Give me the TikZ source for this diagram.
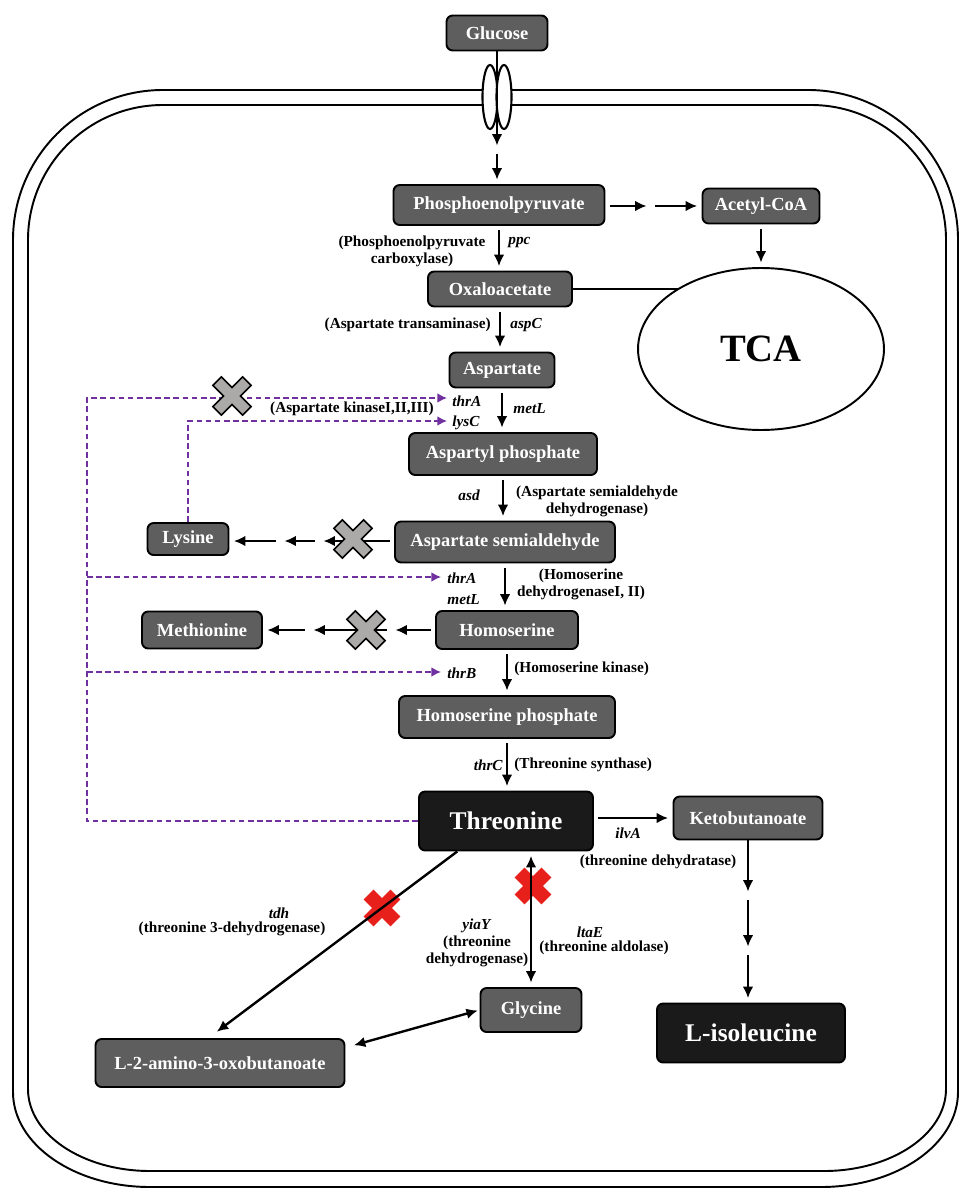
\documentclass[tikz,border=0pt]{standalone}
\usepackage{fontspec}
\setmainfont{Liberation Serif}
\usepackage{tikz}
\usetikzlibrary{shapes.geometric,arrows.meta,positioning}
\definecolor{boxgray}{RGB}{94,94,94}
\definecolor{boxblack}{RGB}{26,26,26}
\definecolor{fbpurple}{RGB}{112,48,160}
\definecolor{markgray}{RGB}{172,170,168}
\definecolor{markred}{RGB}{232,32,28}

\begin{document}
\begin{tikzpicture} [
      x = 0.02cm, y = -0.02cm,
      metab/.style = { draw, line width = 1.1pt, rounded corners = 3.5pt, fill = boxgray, text = white,
                       inner sep = 0pt, font = \fontsize{10.5}{12}\selectfont\bfseries },
      final/.style = { metab, fill = boxblack, font = \fontsize{14.5}{16}\selectfont\bfseries },
      enz/.style = { inner sep = 0pt, align = center, font = \fontsize{8.7}{9.6}\selectfont\bfseries },
      gene/.style = { inner sep = 0pt, font = \fontsize{8.7}{9.6}\selectfont\bfseries\itshape },
      flow/.style = { line width = 1.35pt, -{Latex[length = 6.5pt, width = 6pt]},
                      shorten < = 2.5pt, shorten > = 2.5pt },
      twoway/.style = { flow, {Latex[length = 6.5pt, width = 6pt]}-{Latex[length = 6.5pt, width = 6pt]} },
      fb/.style = { draw = fbpurple, line width = 0.85pt, dash pattern = on 3.2pt off 2pt },
      fbarrow/.style = { fb, -{Latex[length = 5.5pt, width = 5.5pt]} },
      membrane/.style = { line width = 1.1pt },
      graymark/.pic = {
        \draw[fill = markgray, line width = 0.9pt, rotate = 45]
          (6,6) -- (21,6) -- (21,-6) -- (6,-6) -- (6,-21) -- (-6,-21) -- (-6,-6)
          -- (-21,-6) -- (-21,6) -- (-6,6) -- (-6,21) -- (6,21) -- cycle;
      },
      redmark/.pic = {
        \fill[markred, rotate = 45]
          (7,7) -- (19,7) -- (19,-7) -- (7,-7) -- (7,-19) -- (-7,-19) -- (-7,-7)
          -- (-19,-7) -- (-19,7) -- (-7,7) -- (-7,19) -- (7,19) -- cycle;
      }
      ]
    \useasboundingbox (0,0) rectangle (959,1189);

    % cell envelope
    \draw[membrane] (13,240) -- (13,1092) arc[start angle = 180, end angle = 90, x radius = 137, y radius = 95]
      -- (821,1187) arc[start angle = 90, end angle = 0, x radius = 137, y radius = 95]
      -- (958,240) arc[start angle = 0, end angle = -90, radius = 150]
      -- (163,90) arc[start angle = -90, end angle = -180, radius = 150] -- cycle;
    \draw[membrane] (28,240) -- (28,1089) arc[start angle = 180, end angle = 90, x radius = 122, y radius = 82]
      -- (824,1171) arc[start angle = 90, end angle = 0, x radius = 122, y radius = 82]
      -- (946,240) arc[start angle = 0, end angle = -90, radius = 135]
      -- (163,105) arc[start angle = -90, end angle = -180, radius = 135] -- cycle;
    \draw[line width = 1.2pt, fill = white] (490,97) ellipse [x radius = 7.5, y radius = 32];
    \draw[line width = 1.2pt, fill = white] (504,97) ellipse [x radius = 7.5, y radius = 32];

    \node[metab, minimum width = 2.02cm, minimum height = 0.70cm] (glc) at (497,33) {Glucose};
    \node[metab, minimum width = 4.22cm, minimum height = 0.80cm] (pep) at (499,205) {Phosphoenolpyruvate};
    \node[metab, minimum width = 2.34cm, minimum height = 0.70cm] (acoa) at (761,206) {Acetyl-CoA};
    \node[draw, ellipse, line width = 1.1pt, minimum width = 4.92cm, minimum height = 3.24cm,
          font = \fontsize{22}{24}\selectfont\bfseries] (tca) at (761,349) {TCA};
    \node[metab, minimum width = 2.88cm, minimum height = 0.70cm] (oaa) at (500,289) {Oxaloacetate};
    \node[metab, minimum width = 2.10cm, minimum height = 0.70cm] (asp) at (502,370) {Aspartate};
    \node[metab, minimum width = 3.76cm, minimum height = 0.84cm] (aspp) at (503,454) {Aspartyl phosphate};
    \node[metab, minimum width = 4.40cm, minimum height = 0.82cm] (asa) at (505,542) {Aspartate semialdehyde};
    \node[metab, minimum width = 1.62cm, minimum height = 0.64cm] (lys) at (188,539) {Lysine};
    \node[metab, minimum width = 2.84cm, minimum height = 0.76cm] (hser) at (507,630) {Homoserine};
    \node[metab, minimum width = 2.40cm, minimum height = 0.74cm] (met) at (202,630) {Methionine};
    \node[metab, minimum width = 4.32cm, minimum height = 0.84cm] (hserp) at (507,717) {Homoserine phosphate};
    \node[final, minimum width = 3.48cm, minimum height = 1.18cm] (thr) at (506,821) {Threonine};
    \node[metab, minimum width = 2.98cm, minimum height = 0.86cm] (kb) at (748,818) {Ketobutanoate};
    \node[final, minimum width = 3.76cm, minimum height = 1.18cm] (ile) at (751,1033) {L-isoleucine};
    \node[metab, minimum width = 2.02cm, minimum height = 0.88cm] (gly) at (531,1010) {Glycine};
    \node[metab, minimum width = 4.98cm, minimum height = 0.96cm] (aob) at (220,1063) {L-2-amino-3-oxobutanoate};

    \node[enz] (ppcE) at (412,251) {(Phosphoenolpyruvate\\carboxylase)};
    \node[gene, anchor = west] (ppcG) at (508,243) {ppc};
    \node[enz, anchor = east] (aspCE) at (491,325) {(Aspartate transaminase)};
    \node[gene, anchor = west] (aspCG) at (510,325) {aspC};
    \node[enz, anchor = east] (askE) at (434,409) {(Aspartate kinaseI,II,III)};
    \node[gene, anchor = west] (thrA1) at (452,401) {thrA};
    \node[gene, anchor = west] (lysCG) at (452,423) {lysC};
    \node[gene, anchor = west] (metL1) at (513,409) {metL};
    \node[gene, anchor = east] (asdG) at (480,495) {asd};
    \node[enz] (asdE) at (597,501) {(Aspartate semialdehyde\\dehydrogenase)};
    \node[gene, anchor = west] (thrA2) at (447,578) {thrA};
    \node[gene, anchor = west] (metL2) at (447,600) {metL};
    \node[enz] (hdhE) at (581,584) {(Homoserine\\dehydrogenaseI, II)};
    \node[gene, anchor = west] (thrBG) at (447,673) {thrB};
    \node[enz, anchor = west] (hskE) at (514,669) {(Homoserine kinase)};
    \node[gene, anchor = east] (thrCG) at (503,765) {thrC};
    \node[enz, anchor = west] (tsE) at (514,765) {(Threonine synthase)};
    \node[gene] (ilvAG) at (628,833) {ilvA};
    \node[enz] (ilvAE) at (658,862) {(threonine dehydratase)};
    \node[gene] (tdhG) at (279,913) {tdh};
    \node[enz] (tdhE) at (232,929) {(threonine 3-dehydrogenase)};
    \node[enz] (yiaYE) at (477,943) {\textit{yiaY}\\(threonine\\dehydrogenase)};
    \node[gene] (ltaEG) at (590,932) {ltaE};
    \node[enz] (ltaEE) at (604,948) {(threonine aldolase)};

    \coordinate (gmid) at (497,150);
    \coordinate (pmid) at (651,206);
    \coordinate (lk1) at (319,541);
    \coordinate (lk2) at (280,541);
    \coordinate (mm1) at (391,630);
    \coordinate (mm2) at (309,630);
    \coordinate (kb1) at (748,896);
    \coordinate (kb2) at (748,951);
    \coordinate (fbk) at (87,398);
    \coordinate (tipA) at (447,398);
    \coordinate (tipL) at (447,421);
    \coordinate (tipH) at (441,577);
    \coordinate (tipB) at (441,672);

    \pic at (382,908) {redmark};
    \pic at (533,886) {redmark};

    \draw[flow, shorten < = 0pt] (glc.south) -- (gmid);
    \draw[flow] (gmid) -- (gmid |- pep.north);
    \draw[flow] (pep.east |- pmid) -- (pmid);
    \draw[flow] (pmid) -- (acoa.west);
    \draw[flow] (acoa) -- (tca);
    \draw[line width = 1.35pt] (oaa.east) -- (oaa.east -| tca.144);
    \draw[flow] (pep.south) -- (pep.south |- oaa.north);
    \draw[flow] (oaa.south) -- (oaa.south |- asp.north);
    \draw[flow] (asp.south) -- (asp.south |- aspp.north);
    \draw[flow] (aspp.south) -- (aspp.south |- asa.north);
    \draw[flow] (asa.south) -- (asa.south |- hser.north);
    \draw[flow] (hser.south) -- (hser.south |- hserp.north);
    \draw[flow] (hserp.south) -- (hserp.south |- thr.north);
    \draw[flow] (asa.west |- lk1) -- (lk1);
    \draw[flow] (lk1) -- (lk2);
    \draw[flow] (lk2) -- (lk2 -| lys.east);
    \draw[flow] (hser.west) -- (mm1);
    \draw[flow] (mm1) -- (mm2);
    \draw[flow] (mm2) -- (met.east);
    \draw[flow] (thr.east |- kb) -- (kb.west);
    \draw[flow, shorten < = 0pt] (kb.south) -- (kb1);
    \draw[flow] (kb1) -- (kb2);
    \draw[flow] (kb2) -- (kb2 |- ile.north);
    \draw[flow, shorten < = 0pt, shorten > = 6pt] (thr.212) -- (aob.115);
    \draw[twoway] (gly.north |- thr.south) -- (gly.north);
    \draw[twoway, shorten < = 5pt, shorten > = 1pt] (aob.7) -- (gly.west);

    \draw[fbarrow] (thr.west) -- (thr.west -| fbk) -- (fbk) -- (tipA);
    \draw[fbarrow] (fbk |- tipH) -- (tipH);
    \draw[fbarrow] (fbk |- tipB) -- (tipB);
    \draw[fbarrow] (lys.north) -- (lys.north |- tipL) -- (tipL);

    \pic at (232,396) {graymark};
    \pic at (353,539) {graymark};
    \pic at (366,630) {graymark};
\end{tikzpicture}
\end{document}
